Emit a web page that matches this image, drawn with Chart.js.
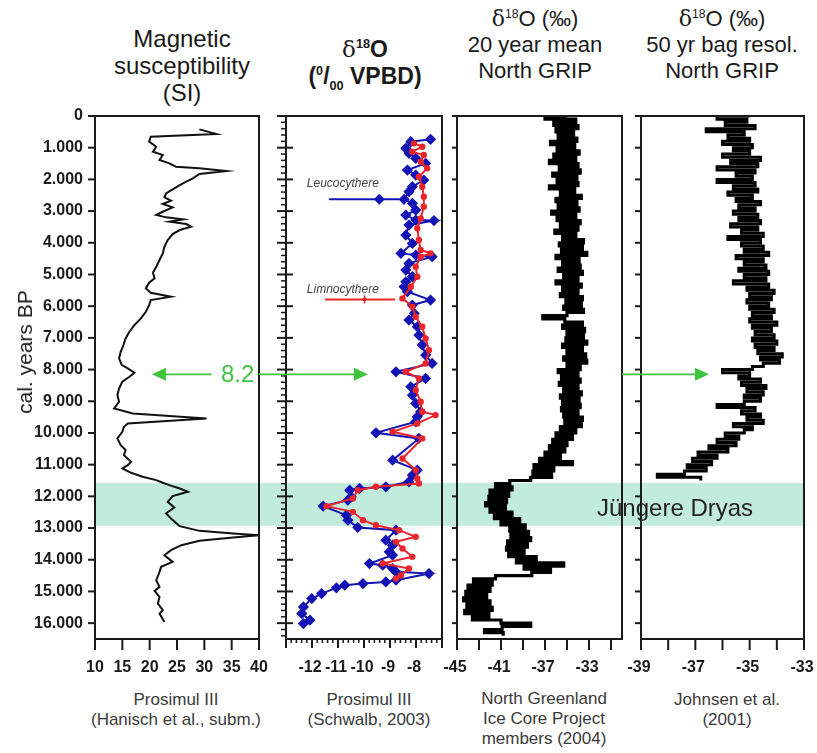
<!DOCTYPE html>
<html>
<head>
<meta charset="utf-8">
<script src="https://cdn.jsdelivr.net/npm/chart.js@4/dist/chart.umd.min.js"></script>
<style>
  body { margin: 0; background: #fff; width: 817px; height: 753px; position: relative; overflow: hidden;
         font-family: "Liberation Sans", Arial, sans-serif; color: #1a1a1a; }
  canvas.panel { position: absolute; left: 0; top: 0; }
  .txt { position: absolute; text-align: center; white-space: nowrap; }
  .title { font-size: 24px; line-height: 27px; }
  .title.b { font-weight: bold; font-size: 23px; }
  .title.cd { font-size: 22px; line-height: 26px; }
  .cap { font-size: 17px; line-height: 20px; color: #3a3a3a; }
  .dl { font-family: "DejaVu Serif", "Liberation Serif", serif; font-weight: normal; }
  sup, sub { font-size: 55%; line-height: 0; }
</style>
</head>
<body>

<div class="txt title" style="left:82px;top:25px;width:200px">Magnetic<br>susceptibility<br>(SI)</div>
<div class="txt title b" style="left:285px;top:36px;width:160px"><span class="dl">δ</span><sup>18</sup>O<br>(<sup>0</sup>/<sub>00</sub> VPBD)</div>
<div class="txt title cd" style="left:445px;top:6px;width:180px"><span class="dl">δ</span><sup>18</sup>O (‰)<br>20 year mean<br>North GRIP</div>
<div class="txt title cd" style="left:632px;top:6px;width:180px"><span class="dl">δ</span><sup>18</sup>O (‰)<br>50 yr bag resol.<br>North GRIP</div>

<div class="txt cap" style="left:66px;top:690px;width:220px">Prosimul III<br>(Hanisch et al., subm.)</div>
<div class="txt cap" style="left:289px;top:690px;width:160px">Prosimul III<br>(Schwalb, 2003)</div>
<div class="txt cap" style="left:464px;top:689px;width:160px">North Greenland<br>Ice Core Project<br>members (2004)</div>
<div class="txt cap" style="left:647px;top:690px;width:160px">Johnsen et al.<br>(2001)</div>

<script>
// ---- data ----
// a) magnetic susceptibility, Prosimul III
const magAge = [421, 568, 652, 810, 968, 1126, 1231, 1389, 1494, 1599, 1652, 1736, 1830, 1967, 2072, 2178, 2314, 2440, 2567, 2672,
  2777, 2882, 2998, 3124, 3198, 3261, 3335, 3408, 3492, 3598, 3724, 3913, 4124, 4334, 4545, 4755, 4944, 5123, 5260, 5439,
  5576, 5702, 5807, 5965, 6175, 6386, 6596, 6806, 7017, 7227, 7438, 7648, 7858, 7964, 8100, 8226, 8384, 8595, 8805, 9016,
  9226, 9384, 9542, 9699, 9804, 9962, 10172, 10383, 10541, 10699, 10909, 11014, 11120, 11257, 11383, 11488, 11572, 11646, 11751, 11857,
  11993, 12172, 12351, 12540, 12698, 12940, 13088, 13172, 13224, 13298, 13403, 13540, 13698, 13856, 14066, 14224, 14434, 14645, 14855, 14982,
  15171, 15382, 15592, 15697, 15960];
const magSI = [29.1, 32.2, 20.2, 19.9, 21.2, 20.6, 22.4, 21.8, 23.6, 24.8, 29.1, 34.0, 29.1, 27.9, 26.7, 25.5, 24.2, 23.0, 22.7, 23.9,
  22.4, 24.2, 22.7, 21.2, 23.0, 26.1, 23.6, 26.7, 27.6, 25.5, 24.2, 23.3, 22.7, 22.4, 21.8, 21.2, 20.6, 20.9, 19.9, 19.3,
  20.2, 23.9, 20.2, 19.9, 19.3, 18.4, 17.2, 16.3, 15.6, 15.2, 14.7, 14.4, 14.9, 16.0, 17.2, 16.3, 15.0, 14.4, 14.1, 14.4,
  13.5, 16.9, 30.4, 16.0, 15.3, 15.0, 14.1, 14.7, 15.6, 15.3, 16.6, 16.0, 15.0, 16.6, 18.7, 21.2, 22.4, 23.6, 25.5, 27.0,
  24.2, 23.3, 24.5, 23.0, 23.9, 25.5, 29.1, 35.3, 40.0, 35.3, 29.1, 25.8, 23.9, 22.7, 24.2, 22.1, 21.7, 21.2, 21.8, 20.9,
  21.8, 21.5, 22.4, 21.8, 22.7];

// b) ostracod d18O, Prosimul III
const leucoAge = [736, 810, 1020, 1178, 1336, 1494, 1704, 1862, 2020, 2230, 2388, 2630, 2756, 2967, 3124, 3282, 3300, 3440, 3756, 4019,
  4334, 4387, 4440, 4650, 4860, 5071, 5229, 5386, 5544, 5807, 5965, 6228, 6438, 6649, 6912, 7227, 7543, 7806, 8069, 8279,
  8542, 8805, 9068, 9331, 9489, 9647, 9994, 10172, 10857, 11172, 11330, 11541, 11699, 11750, 11804, 12014, 12120, 12309, 12593, 12751,
  12982, 13066, 13382, 13540, 13751, 13856, 14119, 14171, 14277, 14380, 14435, 14645, 14698, 14750, 14803, 14887, 15066, 15224, 15487, 15697,
  15908, 16013];
const leucoD18O = [-7.44, -8.20, -8.39, -8.27, -8.01, -7.63, -8.33, -8.01, -7.70, -8.14, -8.27, -8.46, -8.14, -8.01, -8.39, -8.01, -7.31, -8.27, -8.39, -8.14,
  -8.58, -8.01, -7.38, -8.27, -8.39, -8.14, -8.39, -8.46, -8.33, -7.44, -8.14, -8.07, -8.27, -7.95, -7.89, -7.76, -7.63, -7.38, -8.77, -7.63,
  -8.20, -8.14, -8.01, -7.82, -7.95, -8.01, -9.54, -7.89, -8.90, -7.95, -8.14, -8.27, -9.16, -10.17, -10.55, -10.49, -10.62, -11.57, -10.68, -10.62,
  -10.24, -8.77, -9.16, -8.90, -9.03, -8.90, -9.79, -9.28, -8.90, -8.77, -7.50, -8.77, -9.16, -10.04, -10.74, -11.06, -11.63, -12.01, -12.33, -12.39,
  -12.08, -12.33];
const limnoAge = [863, 968, 1126, 1231, 1441, 1652, 1915, 2230, 2546, 2861, 3230, 3545, 3913, 4229, 4334, 4440, 4755, 5071, 5386, 5754,
  6017, 6333, 6649, 7017, 7385, 7806, 8069, 8279, 8647, 9016, 9331, 9436, 9699, 9962, 10172, 10804, 11172, 11436, 11594, 11699,
  11804, 12067, 12309, 12488, 12751, 12909, 13066, 13277, 13435, 13645, 13908, 14119, 14277, 14487, 14593];
const limnoD18O = [-8.08, -7.76, -8.14, -7.70, -7.82, -7.57, -7.89, -7.76, -7.70, -7.70, -7.82, -7.95, -7.89, -7.82, -7.44, -7.82, -8.01, -7.95, -8.20, -8.52,
  -8.14, -8.01, -7.76, -7.63, -7.50, -7.63, -8.39, -7.89, -8.01, -7.82, -7.76, -7.25, -7.95, -8.90, -7.76, -8.52, -8.01, -7.95, -7.89, -9.54,
  -10.24, -10.43, -11.44, -10.43, -10.04, -9.54, -8.65, -8.01, -8.77, -8.52, -8.14, -9.28, -8.27, -8.58, -8.77];

// c) NGRIP 20 year means, sampled every 100 years from 0 BP
const ngripStartAge = 0;
const ngripStep = 100;
const ngripD18O = [
  -35.0, -37.0, -34.2, -36.2, -34.0, -36.0, -34.4, -35.8, -34.1, -36.5,
  -34.3, -35.9, -33.9, -36.2, -34.2, -36.6, -34.0, -35.7, -33.8, -36.3,
  -34.1, -35.9, -34.0, -36.6, -34.3, -35.6, -33.7, -36.0, -34.1, -35.8,
  -33.9, -36.4, -34.2, -35.9, -33.8, -35.6, -34.0, -36.1, -34.2, -35.4,
  -33.5, -35.7, -33.6, -35.5, -33.2, -36.0, -33.9, -35.4, -33.8, -35.8,
  -33.6, -35.3, -34.0, -36.0, -33.7, -35.4, -34.0, -35.6, -33.6, -35.1,
  -33.7, -35.3, -33.5, -35.0, -37.2, -35.2, -33.6, -35.4, -33.4, -35.0,
  -33.5, -35.1, -33.2, -35.4, -33.6, -35.0, -33.3, -35.3, -33.2, -35.0,
  -33.8, -35.8, -34.0, -35.5, -33.8, -35.7, -34.0, -35.3, -33.7, -35.6,
  -33.9, -35.4, -33.8, -35.5, -34.0, -35.3, -33.6, -35.2, -33.7, -35.6,
  -34.2, -36.0, -34.5, -36.3, -35.0, -36.6, -35.2, -37.0, -35.6, -37.5,
  -34.5, -38.0, -36.2, -38.1, -36.4, -38.3, -40.2, -41.5, -40.0, -42.0,
  -40.3, -42.1, -40.5, -42.4, -40.6, -42.0, -40.0, -41.6, -39.3, -41.0,
  -38.8, -40.2, -38.5, -40.1, -38.3, -40.4, -38.6, -40.5, -38.9, -40.3,
  -37.8, -39.6, -35.3, -38.9, -36.5, -38.2, -41.5, -43.5, -41.8, -44.0,
  -42.0, -44.2, -42.3, -44.4, -42.0, -44.1, -41.8, -44.3, -42.1, -43.6,
  -41.0, -38.3, -40.9, -42.5, -40.8];

// d) NGRIP 50 yr bag resolution (Johnsen et al. 2001), sampled every 100 years
const bagStartAge = 0;
const bagStep = 100;
const bagD18O = [
  -35.0, -36.2, -35.1, -35.9, -34.8, -36.6, -35.2, -35.8, -35.0, -36.0,
  -34.9, -35.6, -35.0, -36.0, -34.6, -35.7, -34.7, -36.2, -34.8, -35.5,
  -34.9, -36.2, -34.8, -35.6, -34.7, -35.8, -34.9, -35.5, -34.6, -35.4,
  -34.8, -35.6, -34.7, -35.4, -34.6, -35.7, -34.7, -35.3, -34.5, -35.8,
  -34.6, -35.3, -34.5, -35.2, -34.3, -35.5, -34.5, -35.2, -34.4, -35.4,
  -34.3, -35.2, -34.4, -35.6, -34.3, -35.1, -34.1, -35.0, -34.2, -35.1,
  -34.3, -35.0, -34.1, -34.9, -34.2, -35.0, -34.0, -34.9, -34.2, -34.8,
  -34.1, -34.9, -34.0, -34.8, -34.1, -34.7, -33.8, -34.6, -33.9, -34.5,
  -34.9, -36.0, -35.0, -35.4, -34.6, -35.3, -34.4, -35.1, -34.5, -35.2,
  -34.6, -35.2, -36.2, -34.8, -35.3, -34.6, -35.1, -34.5, -35.6, -34.9,
  -35.2, -35.9, -35.4, -36.2, -35.5, -36.5, -35.8, -36.9, -36.2, -37.1,
  -36.4, -37.3, -36.6, -37.4, -38.4, -36.8];

// tick labels
const ageTickLabels = [0, 1000, 2000, 3000, 4000, 5000, 6000, 7000, 8000, 9000, 10000, 11000, 12000, 13000, 14000, 15000, 16000];
const magTickLabels = [10, 15, 20, 25, 30, 35, 40];
const ostracodTickLabels = [-12, -11, -10, -9, -8];
const ngripTickLabels = [-45, -41, -37, -33];
const bagTickLabels = [-39, -37, -35, -33];

// Younger Dryas band and the 8.2 ka event
const dryasFrom = 11580;
const dryasTo = 12930;
const eventAge = 8150;

// ---- layout ----
const W = 817, H = 753, TOP = 116, BOTTOM = 639;
const FRAMES = [
  { left: 95, right: 259 },
  { left: 286, right: 442 },
  { left: 457, right: 622 },
  { left: 641, right: 804 }
];
const BLUE = '#1414b4', RED = '#e8262b', GREEN = '#3ec43e', BAND = 'rgba(172,229,210,0.75)';
const TICK_FONT = 'bold 16px "Liberation Sans", Arial, sans-serif';

Chart.defaults.font.family = '"Liberation Sans", Arial, sans-serif';
Chart.defaults.color = '#1a1a1a';

const toPts = (ages, vals) => ages.map((a, i) => ({ x: vals[i], y: a }));
const stepPts = (start, step, vals) => vals.map((v, i) => ({ x: v, y: start + i * step }));
const ageLabel = v => v === 0 ? '0' : (v / 1000) + '.000';

const panels = [];

function line(ctx, x1, y1, x2, y2) {
  ctx.beginPath(); ctx.moveTo(x1, y1); ctx.lineTo(x2, y2); ctx.stroke();
}

// frame, tick marks and tick labels, all placed through the chart's scales
function framePlugin(cfg) {
  return {
    id: 'frameTicks',
    afterDatasetsDraw(chart) {
      const { ctx, chartArea: ca, scales: { x, y } } = chart;
      ctx.save();
      ctx.strokeStyle = '#1a1a1a';
      ctx.fillStyle = '#1a1a1a';
      // y ticks every 1000 years (+ minor)
      ctx.lineWidth = 2;
      ageTickLabels.forEach(v => {
        const p = y.getPixelForValue(v);
        line(ctx, ca.left - cfg.yOut, p, ca.left + cfg.yIn, p);
      });
      if (cfg.yMinor) {
        ctx.lineWidth = 1.5;
        for (let v = cfg.yMinor; v < y.max; v += cfg.yMinor) {
          if (v % 1000 === 0) continue;
          const p = y.getPixelForValue(v);
          line(ctx, ca.left - cfg.yMinorOut, p, ca.left + 1, p);
        }
      }
      // x ticks
      ctx.lineWidth = 2;
      const nMaj = Math.round((cfg.xTo - cfg.xFrom) / cfg.xStep);
      for (let k = 0; k <= nMaj; k++) {
        const p = x.getPixelForValue(cfg.xFrom + k * cfg.xStep);
        line(ctx, p, ca.bottom, p, ca.bottom + cfg.xOut);
      }
      if (cfg.xMinor) {
        ctx.lineWidth = 1.5;
        const n = Math.round((x.max - x.min) / cfg.xMinor);
        for (let k = 1; k < n; k++) {
          const p = x.getPixelForValue(x.min + k * cfg.xMinor);
          line(ctx, p, ca.bottom, p, ca.bottom + cfg.xMinorOut);
        }
      }
      // labels
      ctx.font = TICK_FONT;
      ctx.textBaseline = 'middle';
      if (cfg.yLabels) {
        ctx.textAlign = 'right';
        ageTickLabels.forEach(v => ctx.fillText(ageLabel(v), ca.left - 12, y.getPixelForValue(v)));
      }
      ctx.textAlign = 'center';
      cfg.xLabels.forEach(v => ctx.fillText(String(v), x.getPixelForValue(v) - (v < 0 ? 2 : 0), ca.bottom + 29));
      // frame
      ctx.lineWidth = 2;
      ctx.strokeRect(ca.left, ca.top, ca.right - ca.left, ca.bottom - ca.top);
      ctx.restore();
    }
  };
}

function makePanel(i, datasets, xRange, tickCfg, extra) {
  const cv = document.createElement('canvas');
  cv.width = W; cv.height = H; cv.className = 'panel';
  document.body.insertBefore(cv, document.body.querySelector('script'));
  const f = FRAMES[i];
  const chart = new Chart(cv, {
    type: 'line',
    data: { datasets },
    options: {
      responsive: false,
      animation: false,
      indexAxis: 'y',
      layout: { padding: { left: 0, right: W - f.right, top: TOP, bottom: 0 } },
      plugins: { legend: { display: false }, tooltip: { enabled: false } },
      elements: { line: { tension: 0 } },
      scales: {
        x: {
          type: 'linear', position: 'bottom', min: xRange[0], max: xRange[1],
          afterFit(s) { s.height = H - BOTTOM; },
          grid: { display: false }, border: { display: false }, ticks: { display: false }
        },
        y: {
          type: 'linear', position: 'left', reverse: true, min: 0, max: 16500,
          afterFit(s) { s.width = f.left; },
          grid: { display: false }, border: { display: false }, ticks: { display: false }
        }
      }
    },
    plugins: [framePlugin(tickCfg)].concat(extra || [])
  });
  panels.push(chart);
  return chart;
}

// ---- a) magnetic susceptibility (also paints the Younger Dryas band behind all panels) ----
const bandPlugin = {
  id: 'dryasBand',
  beforeDatasetsDraw(chart) {
    const { ctx, scales } = chart;
    const y1 = scales.y.getPixelForValue(dryasFrom), y2 = scales.y.getPixelForValue(dryasTo);
    ctx.save();
    ctx.fillStyle = BAND;
    ctx.fillRect(FRAMES[0].left, y1, FRAMES[3].right - FRAMES[0].left, y2 - y1);
    ctx.restore();
  }
};

makePanel(0,
  [{ data: toPts(magAge, magSI), borderColor: '#111', borderWidth: 2, pointRadius: 0 }],
  [10, 40],
  { yOut: 7, yIn: 0, xOut: 11, xFrom: 10, xTo: 40, xStep: 5, xLabels: magTickLabels, yLabels: true },
  [bandPlugin]);

// ---- b) ostracod d18O ----
const leucoSample = { age: 2630, from: -11.35, to: -8.65, mark: -9.41, label: 'Leucocythere', labelAge: 2125 };
const limnoSample = { age: 5786, from: -11.5, to: -8.8, mark: -9.98, label: 'Limnocythere', labelAge: 5470 };
const labelX = -12.2;

const samplePlugin = {
  id: 'speciesKey',
  afterDatasetsDraw(chart) {
    const { ctx, scales: { x, y } } = chart;
    ctx.save();
    [[leucoSample, BLUE], [limnoSample, RED]].forEach(([s, col]) => {
      const py = y.getPixelForValue(s.age);
      ctx.strokeStyle = col; ctx.lineWidth = 2;
      line(ctx, x.getPixelForValue(s.from), py, x.getPixelForValue(s.to), py);
      const mx = x.getPixelForValue(s.mark);
      ctx.fillStyle = col;
      if (col === BLUE) {
        ctx.beginPath();
        ctx.moveTo(mx, py - 5.5); ctx.lineTo(mx + 5.5, py); ctx.lineTo(mx, py + 5.5); ctx.lineTo(mx - 5.5, py);
        ctx.closePath(); ctx.fill();
      } else {
        ctx.lineWidth = 1.5;
        line(ctx, mx, py - 4, mx, py + 4);
        ctx.beginPath(); ctx.arc(mx, py, 2, 0, Math.PI * 2); ctx.fill();
      }
      ctx.fillStyle = '#444';
      ctx.font = 'italic 12px "Liberation Sans", Arial, sans-serif';
      ctx.textAlign = 'left'; ctx.textBaseline = 'middle';
      ctx.fillText(s.label, x.getPixelForValue(labelX), y.getPixelForValue(s.labelAge));
    });
    ctx.restore();
  }
};

makePanel(1,
  [
    { data: toPts(limnoAge, limnoD18O), borderColor: RED, borderWidth: 2, pointRadius: 2.2,
      pointStyle: 'circle', pointBackgroundColor: RED, pointBorderColor: RED, order: 0 },
    { data: toPts(leucoAge, leucoD18O), borderColor: BLUE, borderWidth: 2, pointRadius: 4.2,
      pointStyle: 'rectRot', pointBackgroundColor: BLUE, pointBorderColor: BLUE, order: 1 }
  ],
  [-13, -7],
  { yOut: 9, yIn: 7, yMinor: 200, yMinorOut: 5, xOut: 9, xFrom: -13, xTo: -7, xStep: 1,
    xMinor: 0.2, xMinorOut: 4, xLabels: ostracodTickLabels },
  [samplePlugin]);

// ---- c) NGRIP 20 yr mean ----
makePanel(2,
  [{ data: stepPts(ngripStartAge, ngripStep, ngripD18O), borderColor: '#000', borderWidth: 3.2,
     pointRadius: 0, stepped: 'before' }],
  [-45, -30],
  { yOut: 5, yIn: 0, xOut: 11, xFrom: -45, xTo: -31, xStep: 2, xLabels: ngripTickLabels });

// ---- d) NGRIP 50 yr bag + 8.2 arrows on top of everything ----
const arrowPlugin = {
  id: 'event82',
  afterDraw(chart) {
    const { ctx } = chart;
    const py = chart.scales.y.getPixelForValue(eventAge);
    const ax = panels[0].scales.x, bx = panels[1].scales.x, dx = chart.scales.x;
    const head = (tip, dir) => {
      ctx.beginPath();
      ctx.moveTo(tip, py); ctx.lineTo(tip - dir * 14, py - 6.5); ctx.lineTo(tip - dir * 14, py + 6.5);
      ctx.closePath(); ctx.fill();
    };
    ctx.save();
    ctx.strokeStyle = GREEN; ctx.fillStyle = GREEN; ctx.lineWidth = 1.6;
    const aTip = ax.getPixelForValue(20.4);
    line(ctx, ax.getPixelForValue(31.3), py, aTip + 12, py);
    head(aTip, -1);
    ctx.font = '24px "Liberation Sans", Arial, sans-serif';
    ctx.textAlign = 'center'; ctx.textBaseline = 'middle';
    ctx.fillText('8.2', ax.getPixelForValue(36.1), py + 1);
    const bTip = bx.getPixelForValue(-9.85);
    line(ctx, ax.getPixelForValue(39.9), py, bTip - 12, py);
    head(bTip, 1);
    const dTip = dx.getPixelForValue(-36.5);
    line(ctx, panels[2].chartArea.right, py, dTip - 12, py);
    head(dTip, 1);
    ctx.restore();
  }
};

makePanel(3,
  [{ data: stepPts(bagStartAge, bagStep, bagD18O), borderColor: '#000', borderWidth: 3.0,
     pointRadius: 0, stepped: 'before' }],
  [-39, -33],
  { yOut: 6, yIn: 0, xOut: 11, xFrom: -39, xTo: -33, xStep: 1, xLabels: bagTickLabels },
  [arrowPlugin]);
</script>

<div class="txt" style="left:597px;top:494px;font-size:24px;line-height:28px;color:#222">Jüngere Dryas</div>
<div class="txt" style="left:25px;top:352px;font-size:21px;transform:translate(-50%,-50%) rotate(-90deg)">cal. years BP</div>

</body>
</html>
